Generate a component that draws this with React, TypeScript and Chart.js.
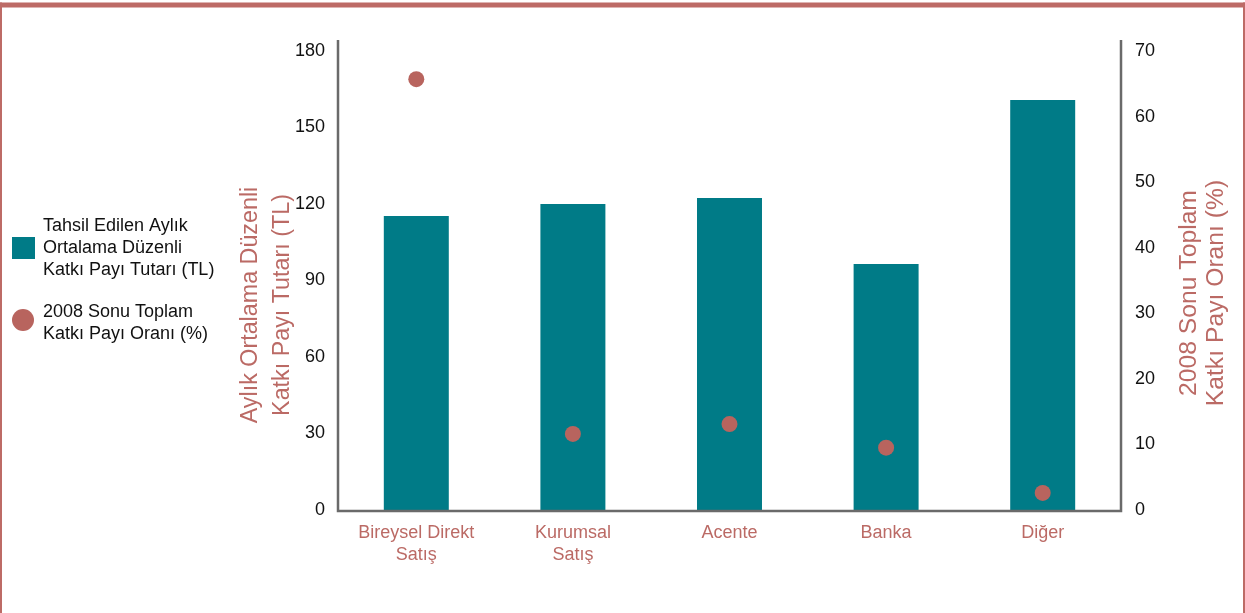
import React, { useEffect, useRef } from 'react';
import { Chart, registerables } from 'chart.js';

Chart.register(...registerables);

const categories: (string | string[])[] = [['Bireysel Direkt', 'Satış'], ['Kurumsal', 'Satış'], 'Acente', 'Banka', 'Diğer'];
const avgContribution = [115.3, 120, 122.4, 96.5, 160.8];
const shareEnd2008 = [65.7, 11.6, 13.1, 9.5, 2.6];
const leftMax = 180;
const leftStep = 30;
const rightMax = 70;
const rightStep = 10;
const barLegend = ['Tahsil Edilen Aylık', 'Ortalama Düzenli', 'Katkı Payı Tutarı (TL)'];
const dotLegend = ['2008 Sonu Toplam', 'Katkı Payı Oranı (%)'];
const leftTitle = ['Aylık Ortalama Düzenli', 'Katkı Payı Tutarı (TL)'];
const rightTitle = ['2008 Sonu Toplam', 'Katkı Payı Oranı (%)'];

const TEAL = '#007b87';
const RED = '#b8645e';
const TEXTRED = '#bb6a65';
const FRAME = '#bd6b66';
const AXIS = '#6a6a6a';
const FONT = '"Liberation Sans", Arial, sans-serif';

const decor = {
  id: 'decor',
  afterDraw(chart: any) {
    const ctx = chart.ctx as CanvasRenderingContext2D;
    const { left, right, top, bottom } = chart.chartArea;
    const W = chart.width;
    const H = chart.height;
    ctx.save();
    // frame
    ctx.fillStyle = FRAME;
    ctx.fillRect(0, 2.5, W, 5);
    ctx.fillRect(0, 2.5, 2, H);
    ctx.fillRect(W - 2, 2.5, 2, H);
    // axis lines
    ctx.strokeStyle = AXIS;
    ctx.lineWidth = 2.5;
    ctx.beginPath();
    ctx.moveTo(left, top - 11);
    ctx.lineTo(left, bottom + 1);
    ctx.lineTo(right, bottom + 1);
    ctx.lineTo(right, top - 11);
    ctx.stroke();
    // legend
    ctx.fillStyle = TEAL;
    ctx.fillRect(12, 237, 23, 22);
    ctx.fillStyle = RED;
    ctx.beginPath();
    ctx.arc(23, 320, 11, 0, Math.PI * 2);
    ctx.fill();
    ctx.fillStyle = '#111';
    ctx.font = `18px ${FONT}`;
    ctx.textAlign = 'left';
    ctx.textBaseline = 'alphabetic';
    barLegend.forEach((t, i) => ctx.fillText(t, 43, 231 + i * 22));
    dotLegend.forEach((t, i) => ctx.fillText(t, 43, 317 + i * 22));
    // axis titles
    ctx.fillStyle = TEXTRED;
    ctx.textAlign = 'center';
    const drawRot = (t: string, x: number, y: number, size: number) => {
      ctx.save();
      ctx.font = `${size}px ${FONT}`;
      ctx.translate(x, y);
      ctx.rotate(-Math.PI / 2);
      ctx.fillText(t, 0, 0);
      ctx.restore();
    };
    drawRot(leftTitle[0], 257, 305, 23.3);
    drawRot(leftTitle[1], 289, 305, 23.3);
    drawRot(rightTitle[0], 1195.5, 293, 24.7);
    drawRot(rightTitle[1], 1222.5, 293, 24.7);
    ctx.restore();
  },
};

export default function App() {
  const ref = useRef<HTMLCanvasElement>(null);
  useEffect(() => {
    if (!ref.current) return;
    const chart = new Chart(ref.current, {
      data: {
        labels: categories,
        datasets: [
          {
            type: 'line',
            label: dotLegend.join(' '),
            data: shareEnd2008,
            yAxisID: 'y1',
            showLine: false,
            pointRadius: 8,
            pointHoverRadius: 8,
            pointBackgroundColor: RED,
            pointBorderWidth: 0,
            borderColor: RED,
            backgroundColor: RED,
            order: 0,
          },
          {
            type: 'bar',
            label: barLegend.join(' '),
            data: avgContribution,
            yAxisID: 'y',
            backgroundColor: TEAL,
            borderWidth: 0,
            barPercentage: 1,
            categoryPercentage: 0.415,
            order: 1,
          },
        ],
      } as any,
      options: {
        responsive: false,
        animation: false,
        events: [],
        layout: { padding: { top: 51, left: 0, right: 0, bottom: 0 } },
        plugins: { legend: { display: false }, tooltip: { enabled: false } },
        scales: {
          x: {
            offset: true,
            grid: { display: false, drawTicks: false },
            border: { display: false },
            ticks: {
              color: TEXTRED,
              font: { family: FONT, size: 18, lineHeight: 1.22 },
              padding: 12,
              maxRotation: 0,
              autoSkip: false,
            },
            afterFit: (s: any) => { s.height = 103; },
          },
          y: {
            position: 'left',
            min: 0,
            max: leftMax,
            grid: { display: false, drawTicks: false },
            border: { display: false },
            ticks: { stepSize: leftStep, color: '#111', font: { family: FONT, size: 18 }, padding: 13 },
            afterFit: (s: any) => { s.width = 338; },
          },
          y1: {
            position: 'right',
            min: 0,
            max: rightMax,
            grid: { display: false, drawTicks: false },
            border: { display: false },
            ticks: { stepSize: rightStep, color: '#111', font: { family: FONT, size: 18 }, padding: 14 },
            afterFit: (s: any) => { s.width = 124; },
          },
        },
      },
      plugins: [decor],
    });
    return () => chart.destroy();
  }, []);
  return (
    <div style={{ position: 'absolute', left: 0, top: 0, width: 1245, height: 613, background: '#fff' }}>
      <canvas ref={ref} width={1245} height={613} style={{ display: 'block' }} />
    </div>
  );
}
